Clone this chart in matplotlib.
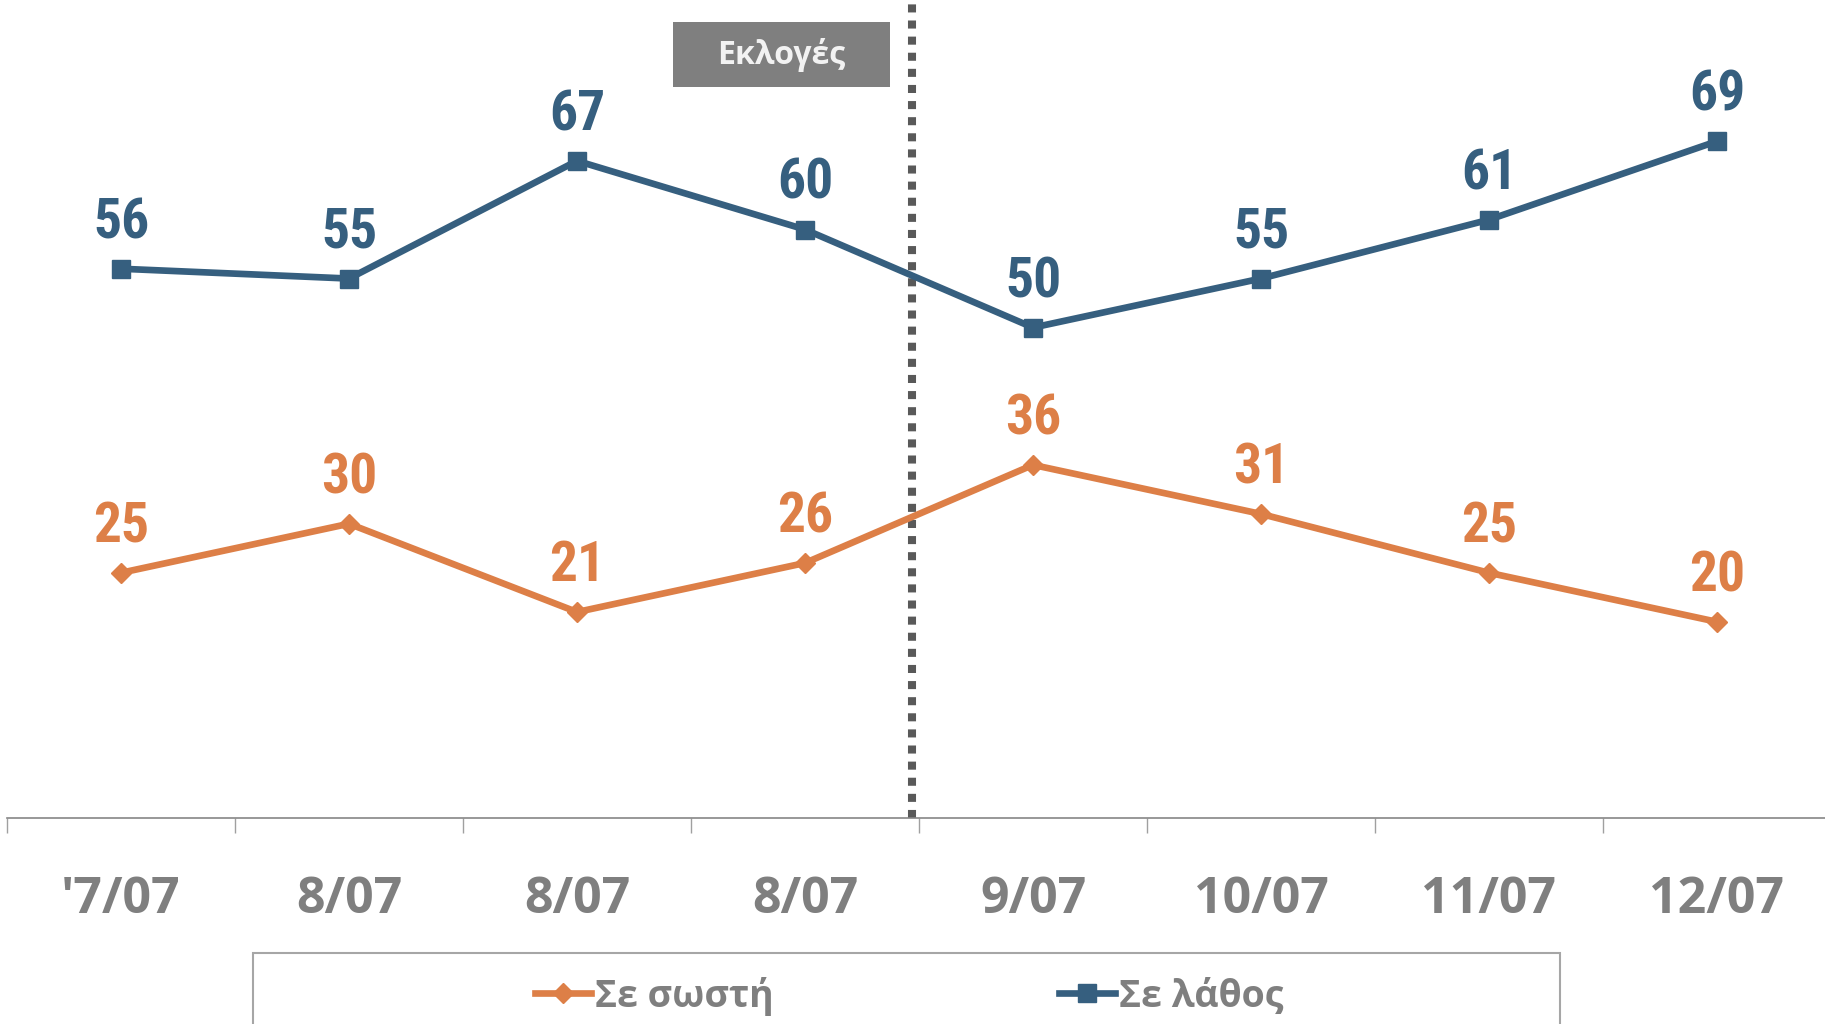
import matplotlib
matplotlib.use("Agg")
import matplotlib.pyplot as plt
from matplotlib.patches import Rectangle
from matplotlib.font_manager import FontProperties

# ---- data ----
categories = ["'7/07", "8/07", "8/07", "8/07", "9/07", "10/07", "11/07", "12/07"]
correct = [25, 30, 21, 26, 36, 31, 25, 20]
wrong = [56, 55, 67, 60, 50, 55, 61, 69]
series_names = ["Σε σωστή", "Σε λάθος"]
election_label = "Εκλογές"
election_x = 3.47

ORANGE = "#DD7F47"
BLUE = "#365F7F"
GRAY_TXT = "#7F7F7F"
MAIN_FONT = ["Open Sans", "DejaVu Sans"]
LABEL_FONT = ["Liberation Sans Narrow", "Arial Narrow", "Roboto Condensed", "DejaVu Sans"]

W, H = 1825, 1024
fig = plt.figure(figsize=(W / 100, H / 100), dpi=100)
ax = fig.add_axes([7 / W, 206 / H, 1824 / W, 818 / H])

x = list(range(len(categories)))
l1, = ax.plot(x, correct, color=ORANGE, lw=4.8, marker="D", ms=10.5,
              label=series_names[0], zorder=3)
l2, = ax.plot(x, wrong, color=BLUE, lw=4.8, marker="s", ms=13,
              label=series_names[1], zorder=3)

for xs, vals, col in ((x, correct, ORANGE), (x, wrong, BLUE)):
    for xi, v in zip(xs, vals):
        ax.annotate(str(v), (xi, v), xytext=(0, 22), textcoords="offset points",
                    ha="center", va="baseline", fontsize=40, fontweight="bold",
                    family=LABEL_FONT, color=col)

ax.axvline(election_x, color="#595959", lw=5.8, linestyle=(0, (1, 1)),
           dash_capstyle="butt", zorder=2)

ax.set_xlim(-0.5, len(categories) - 0.5)
ax.set_ylim(0, 83.4)
for s in ("left", "right", "top"):
    ax.spines[s].set_visible(False)
ax.spines["bottom"].set_color("#868686")
ax.spines["bottom"].set_linewidth(1.2)
ax.set_yticks([])
ax.set_xticks(x)
ax.set_xticklabels(categories)
ax.set_xticks([i - 0.5 for i in range(len(categories) + 1)], minor=True)
ax.tick_params(axis="x", which="major", length=0, pad=41)
ax.tick_params(axis="x", which="minor", length=10.8, width=1, color="#A0A0A0")
for lab in ax.get_xticklabels():
    lab.set_fontfamily(MAIN_FONT)
    lab.set_fontweight("bold")
    lab.set_fontsize(36)
    lab.set_color(GRAY_TXT)

# election box
fig.add_artist(Rectangle((673 / W, 1 - 87 / H), 217 / W, 65 / H,
                         transform=fig.transFigure, facecolor="#7F7F7F",
                         edgecolor="none"))
fig.text(781.5 / W, 1 - 55 / H, election_label, ha="center", va="center",
         color="#F2F2F2", fontsize=23, fontweight="bold", family=MAIN_FONT)

# legend
fig.add_artist(Rectangle((253 / W, -0.05), (1560 - 253) / W, 0.05 + 1 - 953 / H,
                         transform=fig.transFigure, fill=False,
                         edgecolor="#A6A6A6", lw=1.5))
fig.legend(handles=[l1, l2], loc="center", bbox_to_anchor=(909 / W, 1 - 996 / H),
           ncol=2, frameon=False,
           prop=FontProperties(family=MAIN_FONT, weight="bold", size=27),
           handlelength=1.5, handletextpad=0.1, columnspacing=7.6,
           labelcolor=GRAY_TXT, borderpad=0, borderaxespad=0)

fig.savefig("out.png", dpi=100)
